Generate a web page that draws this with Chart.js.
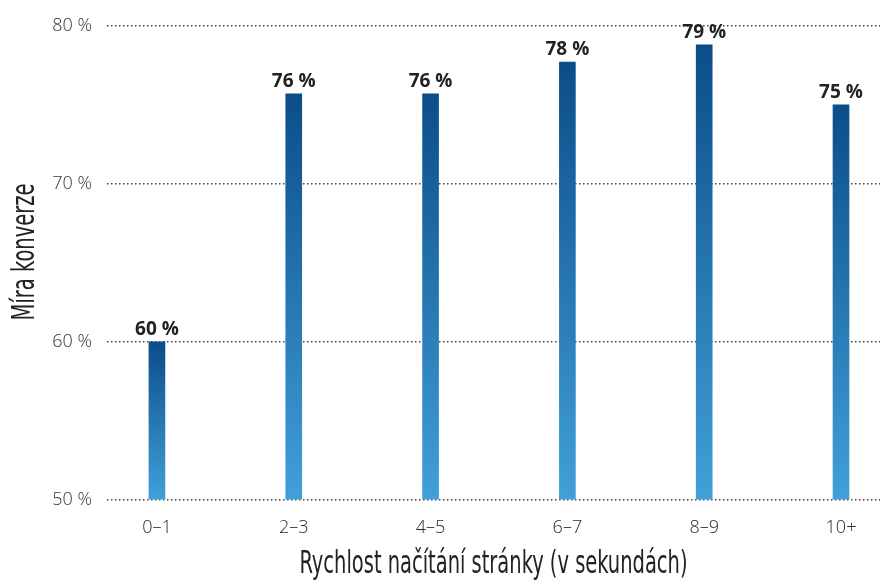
<!DOCTYPE html>
<html lang="cs">
<head>
<meta charset="UTF-8">
<title>Míra konverze</title>
<script src="https://cdn.jsdelivr.net/npm/chart.js@4"></script>
<style>
  body { margin: 0; background: #fff; }
</style>
</head>
<body>
<canvas id="speedChart" width="881" height="585"></canvas>
<script>
const categories = ['0–1', '2–3', '4–5', '6–7', '8–9', '10+'];
const conversion = [60, 75.7, 75.7, 77.7, 78.8, 75.0];
const yTicks = [50, 60, 70, 80];
const xTitle = 'Rychlost načítání stránky (v sekundách)';
const yTitle = 'Míra konverze';

const tickFont = { family: '"Open Sans"', size: 18, weight: 300 };

// bar value labels on top of every bar
const valueLabels = {
    id: 'valueLabels',
    afterDatasetsDraw(chart) {
        const ctx = chart.ctx;
        const meta = chart.getDatasetMeta(0);
        ctx.save();
        ctx.font = 'bold 19px "Open Sans"';
        ctx.fillStyle = '#222';
        ctx.textAlign = 'center';
        ctx.textBaseline = 'alphabetic';
        meta.data.forEach((bar, i) => {
            ctx.fillText(Math.round(conversion[i]) + ' %', bar.x, bar.y - 7);
        });
        ctx.restore();
    }
};

// condensed axis titles
const axisTitles = {
    id: 'axisTitles',
    afterDraw(chart) {
        const ctx = chart.ctx;
        const area = chart.chartArea;
        ctx.save();
        ctx.font = '32px "Liberation Sans Narrow", "DejaVu Sans Condensed", sans-serif';
        ctx.fillStyle = '#222';
        ctx.textAlign = 'center';
        ctx.textBaseline = 'alphabetic';
        const squeeze = 388 / ctx.measureText(xTitle).width;

        ctx.save();
        ctx.translate((area.left + area.right) / 2, 573);
        ctx.scale(squeeze, 1);
        ctx.fillText(xTitle, 0, 0);
        ctx.restore();

        ctx.save();
        ctx.translate(34, 252);
        ctx.rotate(-Math.PI / 2);
        ctx.scale(squeeze, 1);
        ctx.fillText(yTitle, 0, 0);
        ctx.restore();

        ctx.restore();
    }
};

const ctx = document.getElementById('speedChart').getContext('2d');

new Chart(ctx, {
    type: 'bar',
    data: {
        datasets: [{
            data: conversion.map((v, i) => ({ x: i, y: v })),
            base: 50,
            barThickness: 16,
            borderWidth: 0,
            backgroundColor: (c) => {
                const chart = c.chart;
                if (!chart.chartArea || !c.raw) return '#1f6fb0';
                const top = chart.scales.y.getPixelForValue(c.raw.y);
                const bottom = chart.scales.y.getPixelForValue(50);
                const g = chart.ctx.createLinearGradient(0, top, 0, bottom);
                g.addColorStop(0, '#0b4d89');
                g.addColorStop(1, '#41a0d9');
                return g;
            }
        }]
    },
    options: {
        responsive: false,
        animation: false,
        devicePixelRatio: 1,
        layout: { padding: { top: 24, right: 1, left: 0, bottom: 0 } },
        plugins: {
            legend: { display: false },
            tooltip: { enabled: false }
        },
        scales: {
            x: {
                type: 'linear',
                offset: false,
                min: -0.365,
                max: 5.285,
                afterBuildTicks: s => { s.ticks = categories.map((_, i) => ({ value: i })); },
                afterFit: s => { s.height = 85; },
                grid: { display: false },
                border: { display: false },
                ticks: {
                    callback: v => categories[v],
                    font: tickFont,
                    color: '#2a2a2a',
                    padding: 9,
                    maxRotation: 0
                }
            },
            y: {
                min: 50,
                max: 80,
                afterBuildTicks: s => { s.ticks = yTicks.map(v => ({ value: v })); },
                afterFit: s => { s.width = 107; },
                grid: { color: '#444', lineWidth: 1.5, drawTicks: false },
                border: { display: false, dash: [1.5, 2.5] },
                ticks: {
                    callback: v => v + ' %',
                    font: tickFont,
                    color: '#333',
                    padding: 15
                }
            }
        }
    },
    plugins: [valueLabels, axisTitles]
});
</script>
</body>
</html>
